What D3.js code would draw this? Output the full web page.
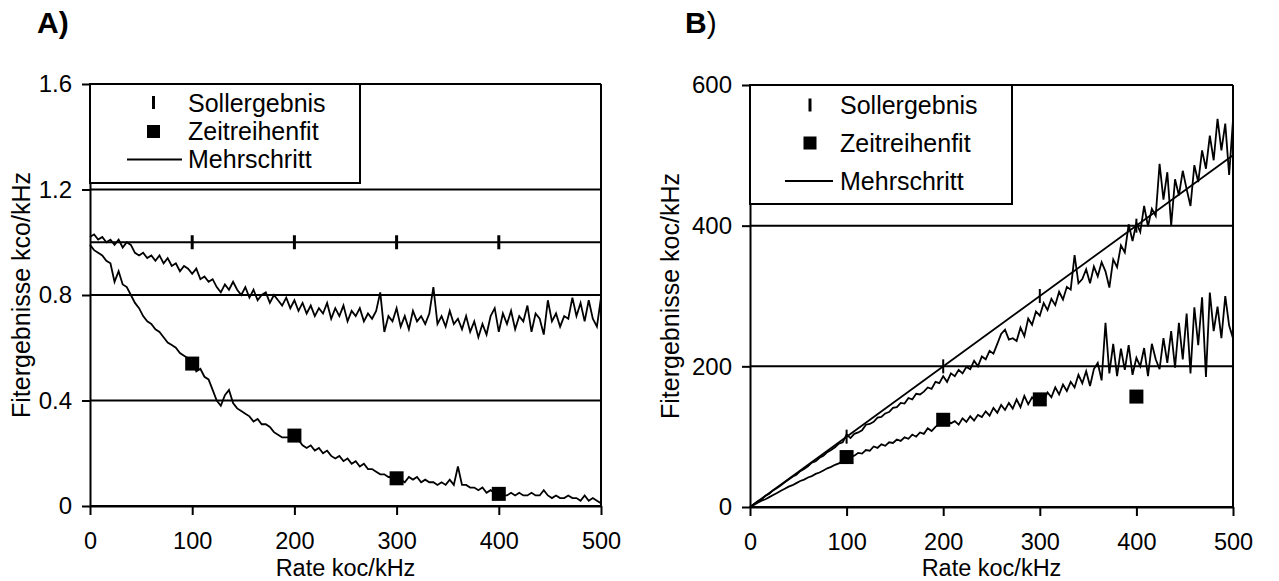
<!DOCTYPE html>
<html><head><meta charset="utf-8">
<script src="https://cdn.jsdelivr.net/npm/d3@7"></script>
<style>
body{margin:0;background:#fff}
svg{display:block}
text{font-family:"Liberation Sans",Arial,sans-serif;fill:#000}
</style>
</head><body>
<svg id="chart" width="1279" height="581"></svg>
<script>
// ---------- data ----------
const rates = d3.range(0, 504, 4); // Rate koc/kHz, 0..500
const targetRates = [100, 200, 300, 400];
const fitRates = [100, 200, 300, 400];

// Panel A: k_co
const sollA = [1.0, 1.0, 1.0, 1.0];
const zeitreihenfitA = [0.54, 0.267, 0.105, 0.046];
const mehrschrittA_upper = [
  1.02,1.03,1.01,1.02,1.00,1.01,0.99,1.01,0.98,1.00,
  0.99,0.96,0.95,0.96,0.94,0.95,0.93,0.95,0.92,0.94,
  0.91,0.92,0.89,0.91,0.90,0.88,0.90,0.86,0.87,0.85,
  0.86,0.83,0.81,0.84,0.82,0.85,0.82,0.80,0.83,0.79,
  0.82,0.78,0.80,0.81,0.77,0.80,0.78,0.76,0.79,0.75,
  0.78,0.74,0.77,0.73,0.76,0.72,0.75,0.73,0.77,0.71,
  0.75,0.72,0.76,0.70,0.74,0.72,0.75,0.70,0.73,0.71,
  0.74,0.81,0.66,0.72,0.70,0.75,0.68,0.72,0.67,0.74,
  0.70,0.72,0.69,0.73,0.83,0.69,0.72,0.68,0.74,0.69,
  0.71,0.67,0.72,0.66,0.70,0.64,0.69,0.65,0.72,0.75,
  0.66,0.73,0.69,0.74,0.67,0.72,0.70,0.76,0.66,0.73,
  0.71,0.65,0.78,0.70,0.73,0.68,0.72,0.71,0.79,0.72,
  0.77,0.70,0.78,0.71,0.68,0.79
];
const mehrschrittA_lower = [
  0.99,0.97,0.96,0.95,0.93,0.92,0.85,0.89,0.84,0.83,
  0.80,0.77,0.75,0.72,0.70,0.69,0.67,0.66,0.64,0.62,
  0.61,0.60,0.58,0.57,0.56,0.55,0.51,0.52,0.49,0.48,
  0.44,0.40,0.38,0.42,0.44,0.39,0.37,0.36,0.35,0.34,
  0.32,0.33,0.31,0.31,0.30,0.28,0.27,0.26,0.26,0.26,
  0.27,0.25,0.23,0.22,0.23,0.21,0.22,0.20,0.21,0.19,
  0.18,0.19,0.17,0.18,0.16,0.17,0.15,0.16,0.14,0.14,
  0.13,0.12,0.12,0.11,0.11,0.10,0.10,0.09,0.11,0.10,
  0.11,0.09,0.10,0.09,0.09,0.08,0.09,0.08,0.10,0.08,
  0.15,0.08,0.08,0.07,0.07,0.06,0.07,0.05,0.06,0.05,
  0.05,0.04,0.04,0.05,0.04,0.05,0.04,0.04,0.05,0.04,
  0.04,0.06,0.04,0.03,0.04,0.03,0.03,0.04,0.03,0.03,
  0.02,0.04,0.02,0.03,0.02,0.01
];

// Panel B: k_oc
const sollLineB = [0, 500];
const sollB = [100, 200, 300, 400];
const zeitreihenfitB = [71, 124, 153, 157];
const mehrschrittB_upper = [
  0,4,8,11,16,19,24,27,31,35,
  39,43,46,51,54,58,63,65,70,73,
  78,81,85,90,92,103,98,104,106,109,
  117,118,121,127,128,133,135,141,142,148,
  147,155,153,161,160,164,170,168,178,176,
  186,178,190,186,195,190,199,196,208,200,
  214,210,222,218,232,246,252,238,240,236,
  255,243,268,259,278,272,290,280,296,287,
  306,295,313,309,358,318,324,338,318,342,
  328,348,335,312,352,341,372,362,402,378,
  404,391,428,399,424,414,488,437,476,400,
  466,443,478,452,428,486,462,507,481,528,
  493,552,507,545,472,550
];
const mehrschrittB_lower = [
  0,3,6,9,11,14,17,20,23,26,
  29,31,34,37,39,42,44,47,49,52,
  55,57,60,62,66,68,72,73,77,76,
  81,80,86,84,89,87,92,91,96,94,
  99,97,103,100,106,104,112,108,114,118,
  117,124,119,122,117,126,121,129,123,131,
  128,136,130,141,134,145,138,148,140,153,
  142,158,146,156,150,160,151,163,156,170,
  160,174,165,178,170,188,176,193,172,196,
  205,180,262,190,232,186,225,195,230,188,
  212,200,226,186,232,210,196,240,205,250,
  198,262,210,275,190,284,230,298,185,305,
  250,285,240,300,258,240
];

const xTicks = [0, 100, 200, 300, 400, 500];
const yTicksA = [0, 0.4, 0.8, 1.2, 1.6];
const yTicksB = [0, 200, 400, 600];
const legendLabels = ["Sollergebnis", "Zeitreihenfit", "Mehrschritt"];

// ---------- drawing ----------
const svg = d3.select("#chart");

function panel(opt) {
  const g = svg.append("g");
  const x = d3.scaleLinear([0, 500], opt.xr);
  const y = d3.scaleLinear(opt.yd, opt.yr);

  g.append("g").selectAll("line").data(opt.yTicks).join("line")
    .attr("x1", opt.xr[0]).attr("x2", opt.xr[1])
    .attr("y1", d => y(d)).attr("y2", d => y(d))
    .attr("stroke", "#000").attr("stroke-width", 2);

  g.append("line").attr("x1", opt.xr[1]).attr("x2", opt.xr[1])
    .attr("y1", opt.yr[0]).attr("y2", opt.yr[1])
    .attr("stroke", "#000").attr("stroke-width", 2);

  const ya = g.append("g").attr("transform", `translate(${opt.xr[0]},0)`)
    .call(d3.axisLeft(y).tickValues(opt.yTicks).tickSize(8).tickSizeOuter(0)
      .tickPadding(10).tickFormat(opt.yFmt));
  const xa = g.append("g").attr("transform", `translate(0,${opt.yr[0]})`)
    .call(d3.axisBottom(x).tickValues(xTicks).tickSize(9).tickSizeOuter(0)
      .tickPadding(17).tickFormat(d3.format("d")));
  [ya, xa].forEach(a => {
    a.selectAll("path,line").attr("stroke", "#000").attr("stroke-width", 2);
    a.selectAll("text").attr("font-size", 24).attr("font-family", "Liberation Sans, Arial, sans-serif");
  });
  xa.selectAll("text").attr("font-size", 23.5);

  const line = d3.line().x((d, i) => x(rates[i])).y(d => y(d));
  opt.noisy.forEach(s => {
    g.append("path").datum(s).attr("d", line)
      .attr("fill", "none").attr("stroke", "#000").attr("stroke-width", 1.8);
  });

  g.append("path").datum(opt.sollLine)
    .attr("d", d3.line().x(d => x(d[0])).y(d => y(d[1])))
    .attr("fill", "none").attr("stroke", "#000").attr("stroke-width", opt.sollW);
  g.append("g").selectAll("line").data(opt.soll).join("line")
    .attr("x1", (d, i) => x(targetRates[i])).attr("x2", (d, i) => x(targetRates[i]))
    .attr("y1", d => y(d) - 7).attr("y2", d => y(d) + 7)
    .attr("stroke", "#000").attr("stroke-width", opt.tickW);

  g.append("g").selectAll("rect").data(opt.fit).join("rect")
    .attr("x", (d, i) => x(fitRates[i]) - 7).attr("y", d => y(d) - 7)
    .attr("width", 14).attr("height", 14).attr("fill", "#000");

  const L = opt.legend;
  g.append("rect").attr("x", opt.xr[0]).attr("y", opt.yr[1])
    .attr("width", L.w).attr("height", L.h)
    .attr("fill", "#fff").attr("stroke", "#000").attr("stroke-width", 2);
  const lg = g.append("g");
  lg.append("line").attr("x1", L.mx).attr("x2", L.mx)
    .attr("y1", L.rows[0] - 7).attr("y2", L.rows[0] + 6)
    .attr("stroke", "#000").attr("stroke-width", 3);
  lg.append("rect").attr("x", L.mx - 6.5).attr("y", L.rows[1] - 6.5)
    .attr("width", 13).attr("height", 13).attr("fill", "#000");
  lg.append("line").attr("x1", L.lx[0]).attr("x2", L.lx[1])
    .attr("y1", L.rows[2]).attr("y2", L.rows[2])
    .attr("stroke", "#000").attr("stroke-width", 1.8);
  lg.selectAll("text").data(legendLabels).join("text")
    .attr("x", L.tx).attr("y", (d, i) => L.rows[i] + 8.5)
    .attr("font-size", 25).text(d => d);

  g.append("text").attr("transform", `translate(${opt.yt[0]},${opt.yt[1]}) rotate(-90)`)
    .attr("text-anchor", "middle").attr("font-size", 25).text(opt.yTitle);
  g.append("text").attr("x", (opt.xr[0] + opt.xr[1]) / 2).attr("y", 575.8)
    .attr("text-anchor", "middle").attr("font-size", 23.5).text("Rate koc/kHz");
  const pl = g.append("text").attr("x", opt.pl[0]).attr("y", 33)
    .attr("font-family", "Liberation Serif, Times New Roman, serif")
    .attr("font-size", 30).attr("font-weight", "bold");
  pl.append("tspan").text(opt.label);
  pl.append("tspan").attr("font-weight", opt.parenW).text(")");
}

panel({
  xr: [90, 601], yd: [0, 1.6], yr: [506, 84], yTicks: yTicksA,
  yFmt: d => d === 0 ? "0" : d3.format(".1f")(d),
  noisy: [mehrschrittA_upper, mehrschrittA_lower],
  sollLine: [[0, 1.0], [500, 1.0]], sollW: 2, tickW: 3,
  soll: sollA, fit: zeitreihenfitA,
  legend: { w: 270, h: 99, mx: 153.5, lx: [127, 182], tx: 188, rows: [103, 131.5, 159.5] },
  yt: [30, 295], yTitle: "Fitergebnisse kco/kHz",
  label: "A", pl: [37, 33], parenW: "bold"
});

panel({
  xr: [750, 1233], yd: [0, 600], yr: [507, 85], yTicks: yTicksB,
  yFmt: d3.format("d"),
  noisy: [mehrschrittB_upper, mehrschrittB_lower],
  sollLine: sollLineB.map(v => [v, v]), sollW: 1.8, tickW: 2,
  soll: sollB, fit: zeitreihenfitB,
  legend: { w: 262, h: 119, mx: 810, lx: [785, 833], tx: 840, rows: [105.5, 143, 181] },
  yt: [679, 296], yTitle: "Fitergebnisse koc/kHz",
  label: "B", pl: [685, 33], parenW: "normal"
});
</script>
</body></html>
